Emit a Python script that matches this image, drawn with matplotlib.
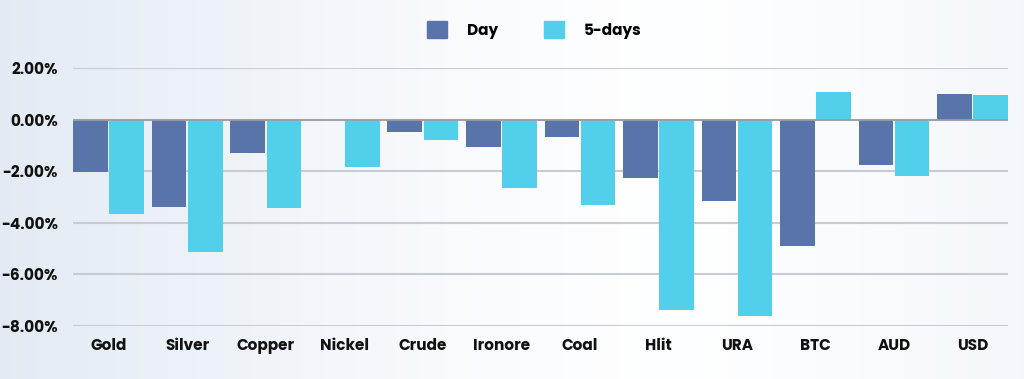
import numpy as np
import matplotlib
matplotlib.use("Agg")
import matplotlib.pyplot as plt
from matplotlib.ticker import FuncFormatter, FixedLocator
from matplotlib.patches import Patch

categories = ["Gold", "Silver", "Copper", "Nickel", "Crude", "Ironore", "Coal",
              "Hlit", "URA", "BTC", "AUD", "USD"]
day = [-2.05, -3.40, -1.29, 0.0, -0.48, -1.07, -0.69, -2.26, -3.15, -4.91, -1.76, 1.01]
five_days = [-3.64, -5.15, -3.44, -1.84, -0.78, -2.66, -3.30, -7.39, -7.62, 1.07, -2.20, 0.97]
y_ticks = [2, 0, -2, -4, -6, -8]

c_day = "#5874a8"
c_5d = "#52cfea"

plt.rcParams['font.family'] = ['Poppins', 'DejaVu Sans']

fig = plt.figure(figsize=(10.24, 3.79), dpi=100)

# background gradient
bg = fig.add_axes([0, 0, 1, 1], zorder=-10)
xx, yy = np.meshgrid(np.linspace(0, 1, 256), np.linspace(0, 1, 128))
t = np.clip(1 - (xx * 1.6 + (1 - yy) * 0.0) , 0, 1)
right = np.clip((xx - 0.7) / 0.3, 0, 1) * 0.35
w = np.clip(t ** 1.3 + right, 0, 1)
c_edge = np.array([0.89, 0.92, 0.955])
c_mid = np.array([0.995, 0.997, 1.0])
img = c_mid[None, None, :] * (1 - w[..., None]) + c_edge[None, None, :] * w[..., None]
bg.imshow(img, aspect='auto', extent=[0, 1, 0, 1], origin='upper')
bg.axis('off')

ax = fig.add_axes([73.3 / 1024, 1 - 326 / 379, (1008 - 73.3) / 1024, (326 - 68) / 379])
ax.patch.set_alpha(0)

x = np.arange(len(categories))
bw = 0.44
ax.bar(x - 0.23, day, width=bw, color=c_day, zorder=3, label="Day")
ax.bar(x + 0.23, five_days, width=bw, color=c_5d, zorder=3, label="5-days")

ax.set_xlim(-0.45, len(categories) - 1 + 0.45)
ax.set_ylim(-8, 2)
ax.yaxis.set_major_locator(FixedLocator(y_ticks))
ax.yaxis.set_major_formatter(FuncFormatter(lambda v, p: f"{v:.2f}%"))
ax.grid(axis='y', color='#c8ccd2', linewidth=1.5, zorder=0)
ax.axhline(0, color='#9a9ea4', linewidth=1.3, zorder=4)
for s in ax.spines.values():
    s.set_visible(False)
ax.tick_params(axis='both', length=0)
ax.tick_params(axis='y', pad=11, labelsize=11)
ax.tick_params(axis='x', pad=9, labelsize=11)
ax.set_xticks(x)
ax.set_xticklabels(categories)
for lab in ax.get_xticklabels() + ax.get_yticklabels():
    lab.set_fontweight('bold')
    lab.set_color('#111111')

handles = [Patch(color=c_day, label="Day"), Patch(color=c_5d, label="5-days")]
leg = fig.legend(handles=handles, loc='center', bbox_to_anchor=(534 / 1024, 1 - 30 / 379),
                 ncol=2, frameon=False, handlelength=1.3, handleheight=1.3,
                 handletextpad=1.3, columnspacing=3.0,
                 prop={'weight': 'bold', 'size': 11})

fig.savefig("out.png", dpi=100)
